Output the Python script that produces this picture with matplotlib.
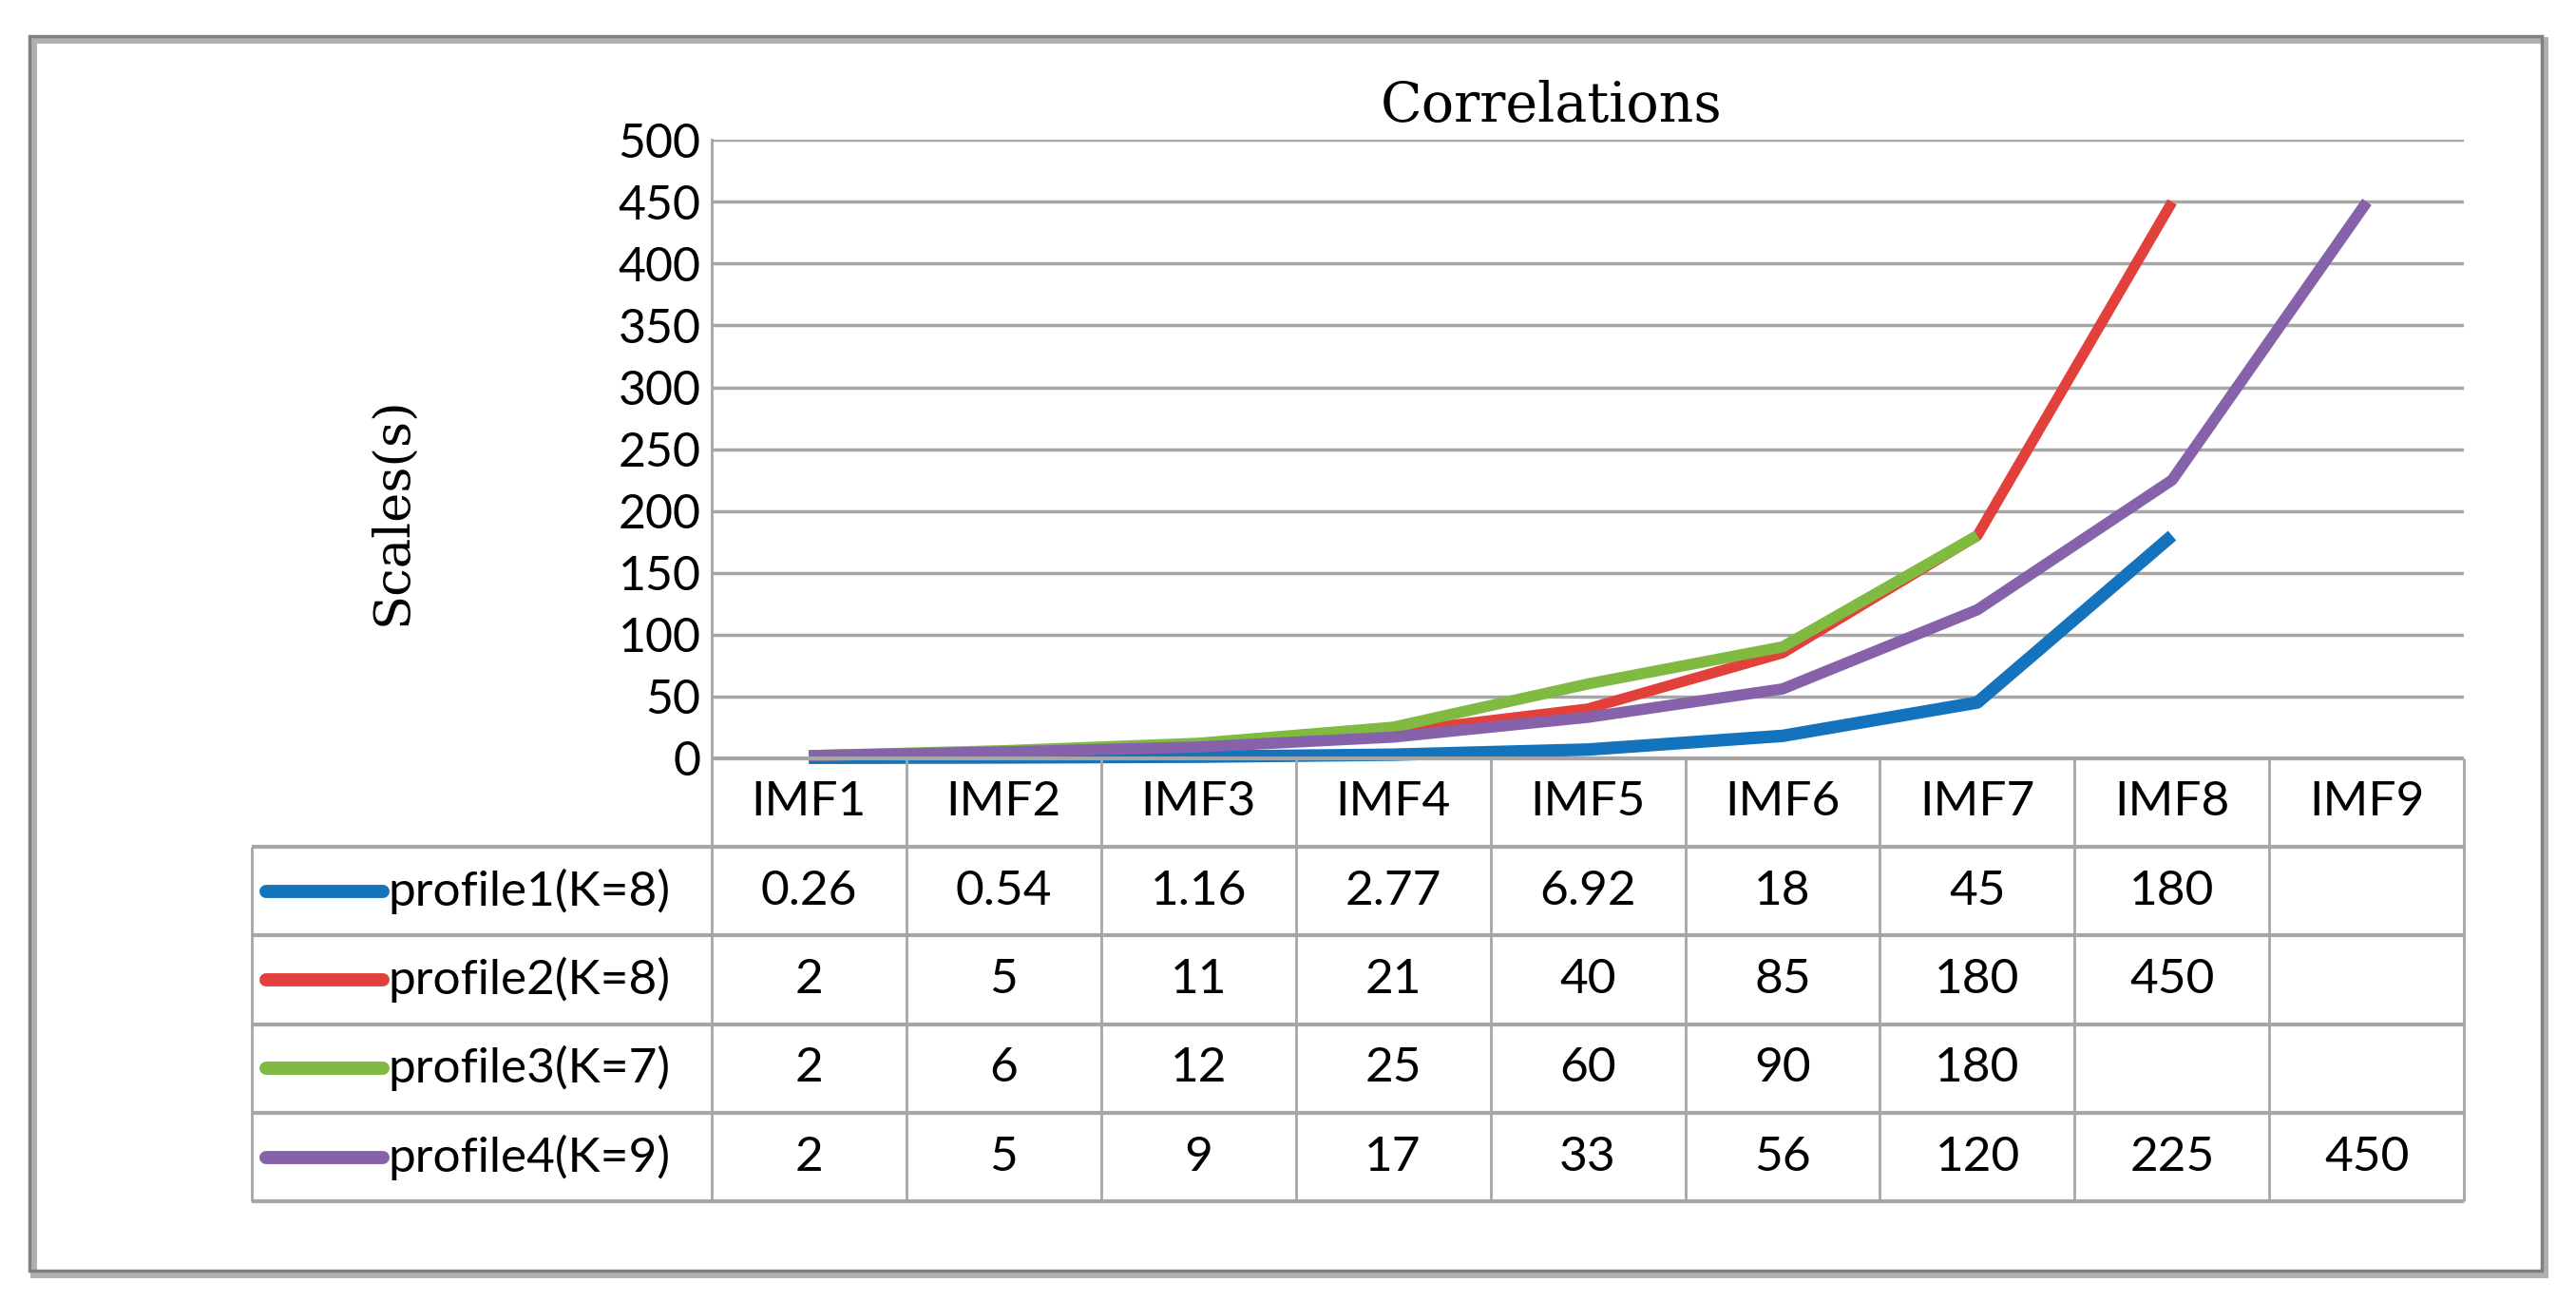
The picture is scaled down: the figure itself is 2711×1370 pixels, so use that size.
import numpy as np
import matplotlib
matplotlib.use("Agg")
import matplotlib.pyplot as plt
from matplotlib.patches import Rectangle

# data
categories = ["IMF1", "IMF2", "IMF3", "IMF4", "IMF5", "IMF6", "IMF7", "IMF8", "IMF9"]
profile1 = [0.26, 0.54, 1.16, 2.77, 6.92, 18, 45, 180]
profile2 = [2, 5, 11, 21, 40, 85, 180, 450]
profile3 = [2, 6, 12, 25, 60, 90, 180]
profile4 = [2, 5, 9, 17, 33, 56, 120, 225, 450]
series_names = ["profile1(K=8)", "profile2(K=8)", "profile3(K=7)", "profile4(K=9)"]
series_colors = ["#1373BD", "#E2403A", "#80BA40", "#8562AA"]
y_ticks = [0, 50, 100, 150, 200, 250, 300, 350, 400, 450, 500]

series = [profile1, profile2, profile3, profile4]
line_w = [9.5, 8.0, 8.5, 8.5]

sans = ["Lato", "DejaVu Sans"]
serif = ["DejaVu Serif"]
grid_col = "#A6A6A6"
fs = 37

# reference layout was measured on a 1568x790 preview
W, H = 1568.0, 790.0
def fx(px):
    return px / W
def fy(py):
    return 1 - py / H

fig = plt.figure(figsize=(27.11, 13.70), dpi=100)

# outer frame with a bit of shadow on right/bottom
fig.patches.append(Rectangle((fx(20), fy(773)), fx(1549) - fx(20), fy(24) - fy(773),
                             transform=fig.transFigure, fill=False,
                             edgecolor="#B0B0B0", lw=5))
fig.patches.append(Rectangle((fx(18), fy(771)), fx(1547) - fx(18), fy(22) - fy(771),
                             transform=fig.transFigure, fill=False,
                             edgecolor="#808080", lw=2.5))

# line chart
ax = fig.add_axes([fx(433), fy(460), fx(1500) - fx(433), fy(85) - fy(460)])
x = np.arange(len(categories))
for vals, col, w in zip(series, series_colors, line_w):
    ax.plot(x[:len(vals)], vals, color=col, lw=w, clip_on=False,
            solid_joinstyle="round", solid_capstyle="butt", zorder=3)

ax.set_xlim(-0.5, len(categories) - 0.5)
ax.set_ylim(0, 500)
ax.set_yticks(y_ticks)
ax.set_yticklabels([str(t) for t in y_ticks], family=sans, fontsize=36)
ax.set_xticks([])
ax.tick_params(axis="y", length=0, pad=8)
for s in ["top", "right", "bottom"]:
    ax.spines[s].set_visible(False)
ax.spines["left"].set_color(grid_col)
ax.spines["left"].set_linewidth(2)
ax.yaxis.grid(True, color=grid_col, lw=2.5)
ax.set_axisbelow(True)
ax.set_ylabel("Scales(s)", family=serif, fontsize=38)
ax.yaxis.set_label_coords(-0.168, 0.40)
ax.set_title("Correlations", family=serif, fontsize=41, x=0.479, pad=14)

# data table under the chart
col_w = (1500 - 433) / len(categories)
lw_col = (433 - 153) / col_w
tax = fig.add_axes([fx(153), fy(729), fx(1500) - fx(153), fy(460) - fy(729)])
tax.axis("off")
x0 = -0.5 - lw_col
tax.set_xlim(x0, len(categories) - 0.5)
tax.set_ylim(len(series) + 1, 0)

# horizontal rules
tax.hlines(0, -0.5, len(categories) - 0.5, color=grid_col, lw=3, clip_on=False)
for r in range(1, len(series) + 2):
    tax.hlines(r, x0, len(categories) - 0.5, color=grid_col, lw=3, clip_on=False)
# vertical rules
tax.vlines(x0, 1, len(series) + 1, color=grid_col, lw=2, clip_on=False)
for c in range(len(categories) + 1):
    tax.vlines(c - 0.5, 0, len(series) + 1, color=grid_col, lw=2, clip_on=False)

# header row
for i, cat in enumerate(categories):
    tax.text(i, 0.5, cat, ha="center", va="center", family=sans, fontsize=fs)

# series rows
for r, (name, vals, col) in enumerate(zip(series_names, series, series_colors)):
    yc = r + 1.5
    tax.plot([x0 + 0.076, x0 + 0.675], [yc, yc], color=col, lw=10,
             solid_capstyle="round", clip_on=False)
    tax.text(x0 + 0.70, yc, name, ha="left", va="center", family=sans, fontsize=fs)
    for i, v in enumerate(vals):
        tax.text(i, yc, "{:g}".format(v), ha="center", va="center",
                 family=sans, fontsize=fs)

fig.savefig("out.png", dpi=100, facecolor="white")
